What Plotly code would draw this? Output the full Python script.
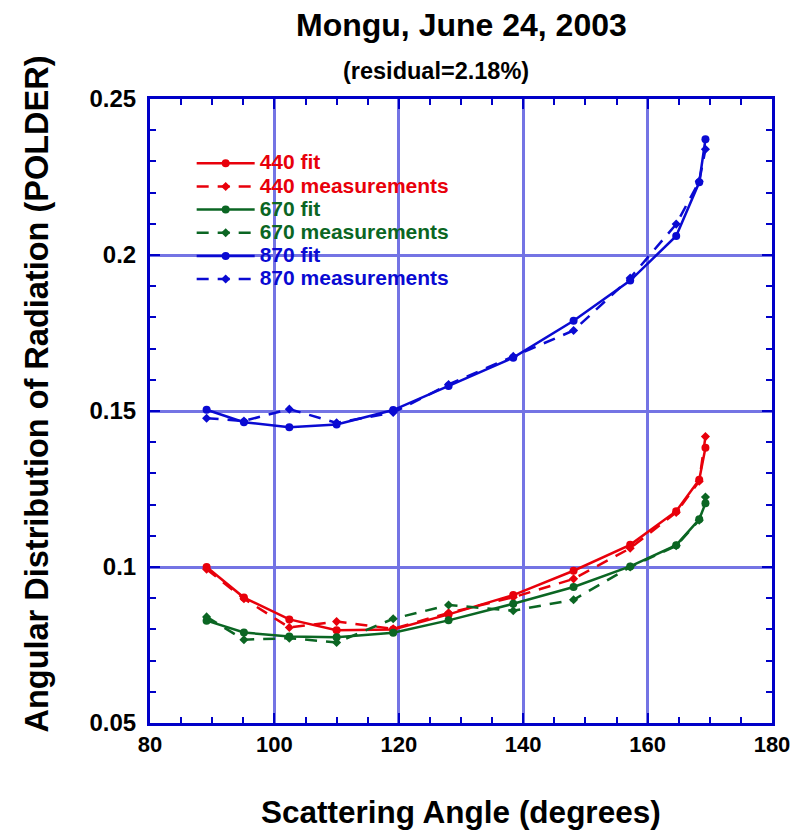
import plotly.graph_objects as go

# Scattering angles (degrees) of the POLDER viewing geometries
angles = [89.1, 95.1, 102.4, 110.0, 119.1, 128.0, 138.4, 148.1, 157.2, 164.6, 168.3, 169.3]

# Angular distribution of radiation, retrieval fit vs. measured, per wavelength (nm)
fit_440 = [0.1000, 0.0902, 0.0832, 0.0797, 0.0800, 0.0848, 0.0910, 0.0988, 0.1071, 0.1179, 0.1280, 0.1382]
meas_440 = [0.0993, 0.0898, 0.0806, 0.0825, 0.0802, 0.0853, 0.0903, 0.0962, 0.1060, 0.1175, 0.1275, 0.1418]
fit_670 = [0.0828, 0.0790, 0.0777, 0.0775, 0.0789, 0.0829, 0.0882, 0.0936, 0.1002, 0.1070, 0.1153, 0.1204]
meas_670 = [0.0840, 0.0767, 0.0772, 0.0758, 0.0834, 0.0878, 0.0860, 0.0895, 0.1000, 0.1068, 0.1150, 0.1224]
fit_870 = [0.1504, 0.1464, 0.1448, 0.1457, 0.1503, 0.1580, 0.1671, 0.1789, 0.1918, 0.2061, 0.2233, 0.2371]
meas_870 = [0.1477, 0.1468, 0.1506, 0.1462, 0.1495, 0.1585, 0.1675, 0.1758, 0.1926, 0.2099, 0.2236, 0.2339]

x_ticks = [80, 100, 120, 140, 160, 180]
y_ticks = [0.05, 0.1, 0.15, 0.2, 0.25]

RED = "#e8000b"
GREEN = "#0b6623"
BLUE = "#0a0ad2"
GRID = "#7474e4"
AXIS = "#0000c8"
FONT = "Liberation Sans, Arial, sans-serif"

series = [
    ("440 fit", fit_440, RED, "solid", "circle", 8),
    ("440 measurements", meas_440, RED, "12px,9px", "diamond", 7),
    ("670 fit", fit_670, GREEN, "solid", "circle", 8),
    ("670 measurements", meas_670, GREEN, "12px,9px", "diamond", 7),
    ("870 fit", fit_870, BLUE, "solid", "circle", 8),
    ("870 measurements", meas_870, BLUE, "12px,9px", "diamond", 7),
]

fig = go.Figure()
for name, vals, color, dash, symbol, size in series:
    fig.add_trace(go.Scatter(
        x=angles, y=vals, mode="lines+markers",
        name=f"<span style='color:{color};font-size:21px'><b>{name}</b></span>",
        line=dict(color=color, width=2.5, dash=dash),
        marker=dict(color=color, size=size, symbol=symbol),
    ))

axis_common = dict(
    showline=True, linecolor=AXIS, linewidth=3, mirror="ticks",
    ticks="inside", ticklen=10, tickwidth=2, tickcolor=AXIS,
    showgrid=True, gridcolor=GRID, gridwidth=3,
    zeroline=False,
)

fig.update_xaxes(
    range=[80, 180], tickvals=x_ticks, ticktext=[str(v) for v in x_ticks],
    tickfont=dict(family=FONT, size=22, color="black", weight="bold"),
    minor=dict(dtick=5, ticks="inside", ticklen=6, tickwidth=2, tickcolor=AXIS, showgrid=False),
    **axis_common,
)
fig.update_yaxes(
    range=[0.05, 0.25], tickvals=y_ticks, ticktext=[f"{v:g}" for v in y_ticks],
    tickfont=dict(family=FONT, size=24, color="black", weight="bold"),
    ticklabelstandoff=6,
    minor=dict(dtick=0.01, ticks="inside", ticklen=6, tickwidth=2, tickcolor=AXIS, showgrid=False),
    **axis_common,
)

fig.update_layout(
    width=805, height=830,
    margin=dict(l=150, r=33, t=99, b=107),
    paper_bgcolor="white", plot_bgcolor="white",
    font=dict(family=FONT, color="black"),
    showlegend=True,
    legend=dict(
        x=0.067, y=0.9235, xanchor="left", yanchor="top",
        bgcolor="rgba(0,0,0,0)", borderwidth=0,
        font=dict(family=FONT, size=15.5),
        itemwidth=58,
        tracegroupgap=0,
    ),
    annotations=[
        dict(text="<b>Mongu, June 24, 2003</b>", x=0.5, y=1.1186, xref="paper", yref="paper",
             showarrow=False, xanchor="center", yanchor="middle",
             font=dict(family=FONT, size=32, color="black")),
        dict(text="<b>(residual=2.18%)</b>", x=0.46, y=1.0449, xref="paper", yref="paper",
             showarrow=False, xanchor="center", yanchor="middle",
             font=dict(family=FONT, size=23.5, color="black")),
        dict(text="<b>Scattering Angle (degrees)</b>", x=0.5, y=-0.1426, xref="paper", yref="paper",
             showarrow=False, xanchor="center", yanchor="middle",
             font=dict(family=FONT, size=31.5, color="black")),
        dict(text="<b>Angular Distribution of Radiation (POLDER)</b>", x=-0.1817, y=0.528,
             xref="paper", yref="paper", textangle=-90,
             showarrow=False, xanchor="center", yanchor="middle",
             font=dict(family=FONT, size=32.5, color="black")),
    ],
)

fig.write_html("out.html")
